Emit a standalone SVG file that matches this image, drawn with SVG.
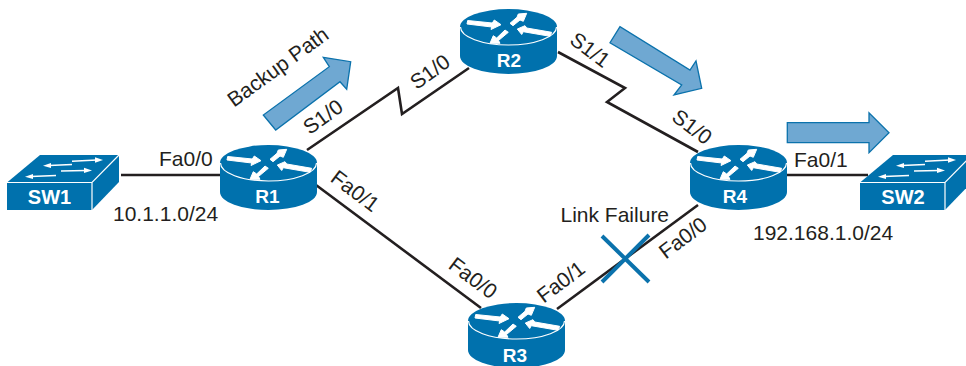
<svg xmlns="http://www.w3.org/2000/svg" width="966" height="366" viewBox="0 0 966 366">
<style>
text{font-family:"Liberation Sans",Arial,sans-serif;font-size:21px;fill:#231f20}
.name{font-weight:bold;font-size:20px;fill:#fff;text-anchor:middle}
.rn{font-size:19px}
.rot{text-anchor:middle}
.link{fill:none;stroke:#231f20;stroke-width:2.6}
.flow{fill:#6fa8d2;stroke:#0b72ac;stroke-width:1.3}
.body{fill:#0071ad}
.seam{fill:none;stroke:#fff;stroke-width:1.2}
.ra{fill:#fff;stroke:#fff;stroke-width:1;stroke-linejoin:round}
.sa{fill:none;stroke:#fff;stroke-width:1.4}
.sh{fill:#fff}
</style>
<defs>
<g id="router">
<path class="body" d="M0,18V47A48.5,18 0 0 0 97,47V18A48.5,18 0 0 0 0,18Z"/>
<path class="seam" d="M0.5,18A48,18 0 0 0 96.5,18"/>
<polygon class="ra" points="7.7,11.5 32.3,14 34.3,11 41,15.7 31,20.5 31.7,18 7,15"/>
<polygon class="ra" points="50,14.3 57,8.3 58.3,5 66.7,4.3 63.3,12.3 60,11 53,16.7"/>
<polygon class="ra" points="91.7,23.3 90,27.3 63.3,22.7 61.7,25.5 57.3,20 65,16.7 66.7,19"/>
<polygon class="ra" points="30,34.3 33.3,26.7 36.7,29 45,21 48.3,23.3 38.5,31.5 40,34.3"/>
</g>
<g id="switch">
<polygon class="body" points="0,27.5 33,0 112,0 112,27 85,55 0,55"/>
<path class="seam" d="M0,27.5H85L112,0M85,27.5V55"/>
<path class="sa" d="M65,6.200L90,5M65,9.500L42,10.500M54,16L79,15.500M49,20.500L24,21.500"/>
<polygon class="sh" points="96,5 88,2.300 88,7.700"/>
<polygon class="sh" points="36,10.700 44,8 44,13"/>
<polygon class="sh" points="85,15.400 77,12.800 77,18"/>
<polygon class="sh" points="18,21.700 26,19 26,24"/>
</g>
</defs>
<g id="connectors">
<path class="link" d="M121,175H220"/>
<path class="link" d="M307,150L398,88L402,114L469,68"/>
<path class="link" d="M558,52L625,88L607,102L698,152"/>
<path class="link" d="M316,185L481,308"/>
<path class="link" d="M557,309L698,205"/>
<path class="link" d="M787,175H868"/>
</g>
<g id="flow-arrows">
<polygon class="flow" points="263.3,115 275.7,130 340,81.7 346.7,89.3 350.7,61.7 323.3,57.3 329.3,66.7"/>
<polygon class="flow" points="620,26.7 610,42.7 681.7,85 674,95 701.7,88.3 696,61 690,70"/>
<polygon class="flow" points="787.3,122.7 869,122.7 869,112.7 889,132.7 869,152.7 869,142.7 787.3,142.7"/>
</g>
<g id="SW1"><use href="#switch" x="7" y="155"/><text class="name" x="49.500" y="204">SW1</text></g>
<g id="SW2"><use href="#switch" x="860" y="155"/><text class="name" x="903" y="203.500">SW2</text></g>
<g id="R1"><use href="#router" x="220" y="145"/><text class="name rn" x="267.500" y="203">R1</text></g>
<g id="R2"><use href="#router" x="460" y="9"/><text class="name rn" x="509" y="67">R2</text></g>
<g id="R3"><use href="#router" x="468" y="303"/><text class="name rn" x="515" y="362">R3</text></g>
<g id="R4"><use href="#router" x="690" y="145"/><text class="name rn" x="735" y="203">R4</text></g>
<g id="link-failure">
<path d="M602,236L649,282M649,235L602,282" fill="none" stroke="#0b72ac" stroke-width="4"/>
<text x="560.500" y="222">Link Failure</text>
</g>
<g id="labels">
<text x="159" y="166">Fa0/0</text>
<text x="113" y="221">10.1.1.0/24</text>
<text x="794" y="167">Fa0/1</text>
<text x="753" y="240">192.168.1.0/24</text>
<text class="rot" x="278" y="74" transform="rotate(-36 278 67)">Backup Path</text>
<text class="rot" x="323" y="124" transform="rotate(-36 323 117)">S1/0</text>
<text class="rot" x="430" y="79" transform="rotate(-36 430 72)">S1/0</text>
<text class="rot" x="590" y="57" transform="rotate(37 590 50)">S1/1</text>
<text class="rot" x="692" y="134" transform="rotate(37 692 127)">S1/0</text>
<text class="rot" x="355" y="198" transform="rotate(37 355 191)">Fa0/1</text>
<text class="rot" x="473" y="285" transform="rotate(37 473 278)">Fa0/0</text>
<text class="rot" x="561" y="289" transform="rotate(-37 561 282)">Fa0/1</text>
<text class="rot" x="683" y="245" transform="rotate(-37 683 238)">Fa0/0</text>
</g>
</svg>
